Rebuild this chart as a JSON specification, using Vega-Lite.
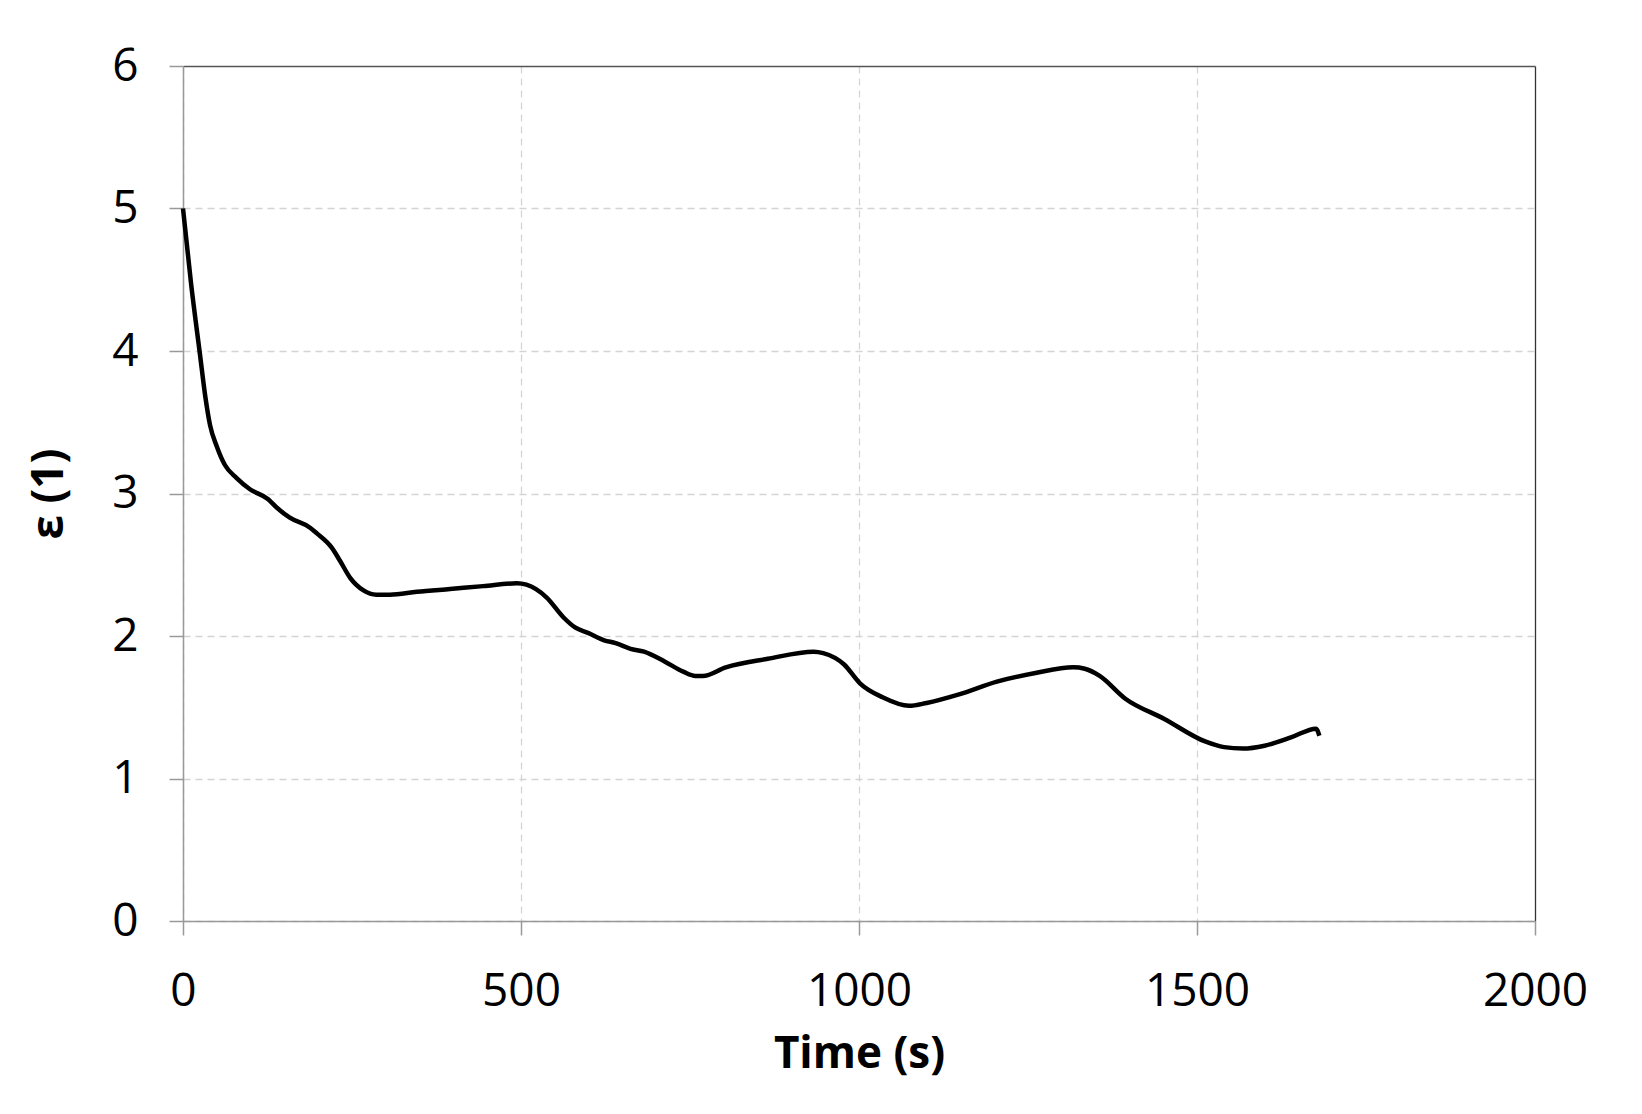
{
  "$schema": "https://vega.github.io/schema/vega-lite/v6.json",
  "autosize": {"type": "none"},
  "padding": {"left": 183, "top": 66, "right": 107, "bottom": 193},
  "width": 1352,
  "height": 855,
  "background": "white",
  "config": {
    "view": {"stroke": null},
    "axis": {
      "labelFont": "Open Sans",
      "labelFontSize": 46,
      "labelColor": "#000000",
      "titleFont": "Open Sans",
      "titleFontSize": 44,
      "titleFontWeight": "bold",
      "titleColor": "#000000",
      "domainColor": "#999999",
      "domainWidth": 1.5,
      "tickColor": "#999999",
      "tickWidth": 1.5,
      "tickSize": 14,
      "gridWidth": 1.3
    }
  },
  "data": {
    "values": [
      {"t": 0, "v": 5.00}, {"t": 12, "v": 4.47}, {"t": 25, "v": 3.98}, {"t": 33, "v": 3.68},
      {"t": 40, "v": 3.48}, {"t": 50, "v": 3.33}, {"t": 62, "v": 3.20}, {"t": 79, "v": 3.11},
      {"t": 99, "v": 3.03}, {"t": 126, "v": 2.96}, {"t": 139, "v": 2.90}, {"t": 158, "v": 2.83},
      {"t": 188, "v": 2.76}, {"t": 198, "v": 2.72}, {"t": 220, "v": 2.62}, {"t": 232, "v": 2.53},
      {"t": 247, "v": 2.41}, {"t": 267, "v": 2.32}, {"t": 286, "v": 2.29}, {"t": 306, "v": 2.29},
      {"t": 346, "v": 2.31}, {"t": 395, "v": 2.33}, {"t": 444, "v": 2.35}, {"t": 494, "v": 2.37},
      {"t": 508, "v": 2.36}, {"t": 538, "v": 2.27}, {"t": 563, "v": 2.13}, {"t": 580, "v": 2.06},
      {"t": 600, "v": 2.02}, {"t": 623, "v": 1.97}, {"t": 640, "v": 1.95}, {"t": 662, "v": 1.91},
      {"t": 682, "v": 1.89}, {"t": 713, "v": 1.82}, {"t": 740, "v": 1.75}, {"t": 758, "v": 1.72},
      {"t": 769, "v": 1.72}, {"t": 803, "v": 1.78}, {"t": 865, "v": 1.84}, {"t": 933, "v": 1.89},
      {"t": 947, "v": 1.88}, {"t": 978, "v": 1.80}, {"t": 1001, "v": 1.67}, {"t": 1035, "v": 1.57},
      {"t": 1074, "v": 1.51}, {"t": 1100, "v": 1.53}, {"t": 1148, "v": 1.59}, {"t": 1204, "v": 1.68},
      {"t": 1261, "v": 1.74}, {"t": 1317, "v": 1.78}, {"t": 1334, "v": 1.77}, {"t": 1356, "v": 1.72},
      {"t": 1394, "v": 1.56}, {"t": 1451, "v": 1.42}, {"t": 1512, "v": 1.26}, {"t": 1540, "v": 1.22},
      {"t": 1568, "v": 1.21}, {"t": 1600, "v": 1.23}, {"t": 1640, "v": 1.29}, {"t": 1676, "v": 1.35},
      {"t": 1681, "v": 1.30}
    ]
  },
  "mark": {"type": "line", "color": "#000000", "strokeWidth": 4.5, "interpolate": "monotone"},
  "encoding": {
    "x": {
      "field": "t",
      "type": "quantitative",
      "scale": {"domain": [0, 2000], "nice": false},
      "axis": {
        "values": [0, 500, 1000, 1500, 2000],
        "format": "d",
        "title": "Time (s)",
        "labelPadding": 34,
        "titlePadding": 18,
        "labelFlush": false,
        "gridDash": {"condition": {"test": "datum.value == 2000", "value": []}, "value": [7, 5]},
        "gridColor": {"condition": {"test": "datum.value == 2000", "value": "#333333"}, "value": "#d4d4d4"}
      }
    },
    "y": {
      "field": "v",
      "type": "quantitative",
      "scale": {"domain": [0, 6], "nice": false},
      "axis": {
        "values": [0, 1, 2, 3, 4, 5, 6],
        "format": "d",
        "title": "ε (1)",
        "labelPadding": 31,
        "titlePadding": 40,
        "gridDash": {"condition": {"test": "datum.value == 6", "value": []}, "value": [7, 5]},
        "gridColor": {"condition": {"test": "datum.value == 6", "value": "#555555"}, "value": "#d4d4d4"}
      }
    }
  }
}
